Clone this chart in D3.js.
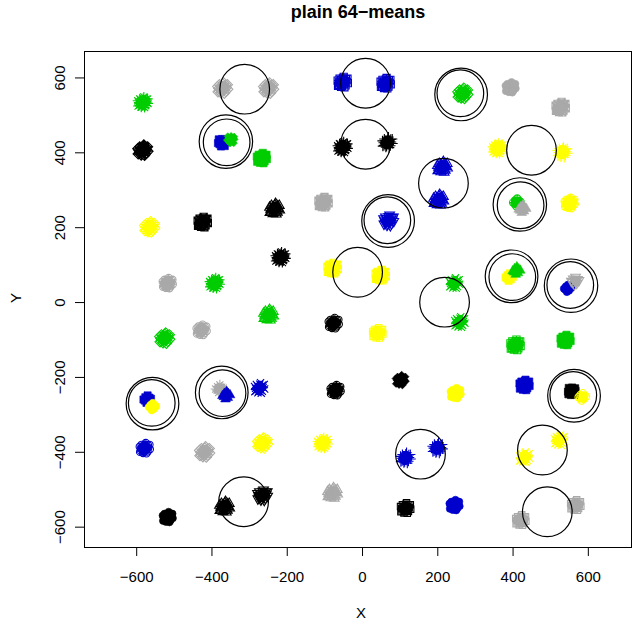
<!DOCTYPE html>
<html><head><meta charset="utf-8">
<script src="https://cdn.jsdelivr.net/npm/d3@7"></script>
<style>
body{margin:0;background:#fff}
svg{display:block}
text{font-family:"Liberation Sans",Arial,Helvetica,sans-serif;fill:#000}
</style>
</head><body>
<svg id="chart" width="633" height="627"></svg>
<script>
// ---- data ----
const clusterX = [-584,-372,-250,-53,61,266,393,526,
  -584,-374,-350,-268,-53,66,212,202,359,531,
  -566,-425,-234,-104,69,410,425,550,
  -218,-80,48,
  -518,-393,244,390,409,545,565,
  -250,-526,-428,-77,40,258,406,539,
  -572,-558,-380,-362,-274,-72,101,247,430,556,584,
  -579,-420,-266,-106,114,199,523,430,
  -518,-367,-266,-80,114,244,420,566];
const clusterY = [535,573,573,589,586,559,575,522,
  407,427,435,386,415,428,362,274,412,402,
  202,215,250,268,220,268,250,266,
  121,92,73,
  52,52,52,68,85,38,58,
  -33,-95,-73,-55,-81,-52,-113,-100,
  -258,-278,-230,-248,-228,-234,-207,-242,-220,-237,-252,
  -389,-399,-375,-375,-415,-388,-367,-413,
  -573,-546,-514,-509,-549,-541,-581,-541];
const clusterGroup = ["green","gray","gray","blue","blue","green","gray","gray",
  "black","blue","green","green","black","black","blue","blue","yellow","yellow",
  "yellow","black","black","gray","blue","green","gray","yellow",
  "black","yellow","yellow",
  "gray","green","green","yellow","green","blue","gray",
  "green","green","gray","black","yellow","green","green","green",
  "blue","yellow","gray","blue","blue","black","black","yellow","blue","black","yellow",
  "blue","gray","yellow","yellow","blue","blue","yellow","yellow",
  "black","black","black","gray","black","blue","gray","gray"];
const clusterPch = [8,5,5,12,12,5,16,7,
  9,15,18,15,8,3,2,2,8,3,
  5,7,2,7,6,10,17,10,
  8,7,7,
  10,8,4,15,17,16,6,
  2,5,1,1,0,4,12,15,
  15,16,8,17,4,10,18,16,15,15,1,
  1,5,5,8,3,3,4,4,
  16,2,6,2,0,16,0,0];
const clusterSize = [20,20,20,20,20,20,20,20,
  20,12,12,20,20,20,20,20,20,20,
  20,20,20,20,20,9,9,20,
  20,20,20,
  20,20,20,9,9,9,9,
  20,20,20,20,20,20,20,20,
  9,9,9,9,20,20,20,20,20,13,9,
  20,20,20,20,20,20,20,20,
  20,20,20,20,20,20,20,20];
// hand-placed spread of points inside a cluster (data units)
const spreadDX = [0,6,-5,4,-6,10,-10,1,-2,8,-8,9,-9,14,-13,3,-4,13,-12,5];
const spreadDY = [0,4,5,-6,-4,1,-1,10,-10,-9,9,8,-8,-3,4,14,-13,9,-10,-14];

// k-means centres drawn as circles
const circleX = [-313,8,260,262,-361,-363,8,215,449,420,418,66,68,-13,218,398,396,552,554,-560,-558,-372,-374,154,478,560,562,-316,491];
const circleY = [570,586,559,556,428,430,423,319,407,260,262,220,218,81,1,68,70,47,45,-268,-270,-242,-240,-405,-394,-247,-249,-532,-559];
const circleR = [66,66,62,70,62,71,66,66,66,62,71,62,70,66,66,62,70,62,71,62,70,62,70,66,66,62,70,66,66];

const xTicks = [-600,-400,-200,0,200,400,600];
const yTicks = [-600,-400,-200,0,200,400,600];
const xLim = [-740,716], yLim = [-653,672];
const titleText = "plain 64\u2212means";

// ---- drawing ----
const palette = {black:"#000000", blue:"#0000CD", green:"#00CD00", yellow:"#FFFF00", gray:"#A9A9A9"};
const svg = d3.select("#chart");
const L=84, Rt=632, T=51, B=547;
const x = d3.scaleLinear().domain(xLim).range([L,Rt]);
const y = d3.scaleLinear().domain(yLim).range([B,T]);

svg.append("rect").attr("width",633).attr("height",627).attr("fill","#fff");

const RAD=3.6, S2=Math.SQRT2*RAD, SQ=RAD*0.8862, TR0=1.5551*RAD, TR1=1.3468*RAD, TR2=0.7776*RAD;
const circ = r => `M${r},0A${r},${r} 0 1,1 ${-r},0A${r},${r} 0 1,1 ${r},0Z`;
const sq = h => `M${-h},${-h}H${h}V${h}H${-h}Z`;
const plus = h => `M${-h},0H${h}M0,${-h}V${h}`;
const cross = h => `M${-h},${-h}L${h},${h}M${-h},${h}L${h},${-h}`;
const diam = h => `M${-h},0L0,${-h}L${h},0L0,${h}Z`;
const triU = `M0,${-TR0}L${TR1},${TR2}L${-TR1},${TR2}Z`;
const triD = `M0,${TR0}L${TR1},${-TR2}L${-TR1},${-TR2}Z`;
function symbol(p){
  switch(p){
    case 0: return {d:sq(SQ), f:false};
    case 1: return {d:circ(RAD), f:false};
    case 2: return {d:triU, f:false};
    case 3: return {d:plus(S2), f:false};
    case 4: return {d:cross(RAD), f:false};
    case 5: return {d:diam(S2), f:false};
    case 6: return {d:triD, f:false};
    case 7: return {d:sq(RAD)+cross(RAD), f:false};
    case 8: return {d:cross(RAD)+plus(S2), f:false};
    case 9: return {d:diam(S2)+plus(S2), f:false};
    case 10: return {d:circ(RAD)+plus(RAD), f:false};
    case 12: return {d:sq(RAD)+plus(RAD), f:false};
    case 15: return {d:sq(RAD), f:true};
    case 16: return {d:circ(RAD), f:true};
    case 17: return {d:triU, f:true};
    case 18: return {d:diam(RAD), f:true};
  }
  return {d:circ(RAD), f:false};
}

const points = [], cores = [];
clusterX.forEach((cx,i)=>{
  const n = clusterSize[i];
  const sym = symbol(clusterPch[i]);
  for(let k=0;k<n;k++){
    points.push({x:cx+spreadDX[k], y:clusterY[i]+spreadDY[k], g:clusterGroup[i], sym});
    if(!sym.f && k < Math.ceil(n*0.45)) cores.push({x:cx+spreadDX[k], y:clusterY[i]+spreadDY[k], g:clusterGroup[i]});
  }
});

const plotG = svg.append("g");
plotG.selectAll("circle.core").data(cores).join("circle").attr("class","core")
  .attr("cx",d=>x(d.x)).attr("cy",d=>y(d.y)).attr("r",3.4)
  .attr("fill",d=>palette[d.g]);
plotG.selectAll("path.pt").data(points).join("path").attr("class","pt")
  .attr("transform",d=>`translate(${x(d.x)},${y(d.y)})`)
  .attr("d",d=>d.sym.d)
  .attr("fill",d=>d.sym.f?palette[d.g]:"none")
  .attr("stroke",d=>palette[d.g])
  .attr("stroke-width",d=>d.sym.f?0.6:1.1);

const kx = x(1)-x(0);
plotG.selectAll("circle.ctr").data(circleX.map((cx,i)=>({x:cx,y:circleY[i],r:circleR[i]})))
  .join("circle").attr("class","ctr")
  .attr("cx",d=>x(d.x)).attr("cy",d=>y(d.y)).attr("r",d=>d.r*kx)
  .attr("fill","none").attr("stroke","#000").attr("stroke-width",1.2);

// box
svg.append("rect").attr("x",L+0.5).attr("y",T+0.5).attr("width",Rt-L-1).attr("height",B-T)
  .attr("fill","none").attr("stroke","#000").attr("stroke-width",1);

// x axis
const ax = svg.append("g");
ax.append("line").attr("x1",x(xTicks[0])).attr("x2",x(xTicks[xTicks.length-1]))
  .attr("y1",B+0.5).attr("y2",B+0.5).attr("stroke","#000");
ax.selectAll("line.t").data(xTicks).join("line").attr("class","t")
  .attr("x1",d=>x(d)).attr("x2",d=>x(d)).attr("y1",B).attr("y2",B+9).attr("stroke","#000");
ax.selectAll("text").data(xTicks).join("text")
  .attr("x",d=>x(d)).attr("y",582).attr("text-anchor","middle").attr("font-size",15)
  .text(d=>d3.format("d")(d));
// y axis
const ay = svg.append("g");
ay.append("line").attr("y1",y(yTicks[0])).attr("y2",y(yTicks[yTicks.length-1]))
  .attr("x1",L+0.5).attr("x2",L+0.5).attr("stroke","#000");
ay.selectAll("line.t").data(yTicks).join("line").attr("class","t")
  .attr("y1",d=>y(d)).attr("y2",d=>y(d)).attr("x1",L-9).attr("x2",L).attr("stroke","#000");
ay.selectAll("text").data(yTicks).join("text")
  .attr("transform",d=>`translate(65,${y(d)}) rotate(-90)`)
  .attr("text-anchor","middle").attr("font-size",15)
  .text(d=>d3.format("d")(d));

svg.append("text").attr("x",361).attr("y",618).attr("text-anchor","middle").attr("font-size",15).text("X");
svg.append("text").attr("transform","translate(21,298) rotate(-90)").attr("text-anchor","middle").attr("font-size",15).text("Y");
svg.append("text").attr("x",358).attr("y",18).attr("text-anchor","middle").attr("font-size",18).attr("font-weight","bold").text(titleText);
</script>
</body></html>
